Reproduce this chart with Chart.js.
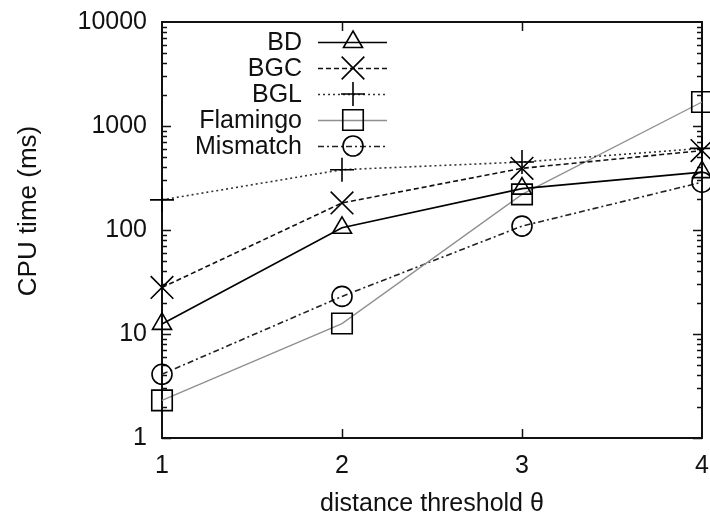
<!DOCTYPE html>
<html><head><meta charset="utf-8">
<script src="https://cdn.jsdelivr.net/npm/chart.js@4/dist/chart.umd.min.js"></script>
<style>html,body{margin:0;padding:0;background:#fff}#wrap{width:710px;height:516px}</style>
</head><body><div id="wrap"><canvas id="c" width="710" height="516"></canvas></div>
<script>
const categories = ['1','2','3','4'];
const yTickValues = [1, 10, 100, 1000, 10000];
const seriesNames = ['BD','BGC','BGL','Flamingo','Mismatch'];
const bd = [12.5, 105, 250, 360];
const bgc = [28, 182, 392, 580];
const bgl = [195, 380, 450, 610];
const flamingo = [2.3, 12.6, 220, 1700];
const mismatch = [4.1, 23, 109, 288];
const xTitle = 'distance threshold \u03b8';
const yTitle = 'CPU time (ms)';

const FONT = '"Liberation Sans", Arial, sans-serif';
const TXT = '#111';

const styles = [
  {color:'#000', pcolor:'#000', dash:[], width:1.6, ps:'triangle', r:11},
  {color:'#111', pcolor:'#000', dash:[5,3], width:1.6, ps:'crossRot', r:16},
  {color:'#333', pcolor:'#000', dash:[2,3], width:1.6, ps:'cross', r:12},
  {color:'#8f8f8f', pcolor:'#000', dash:[], width:1.3, ps:'rect', r:14.5},
  {color:'#222', pcolor:'#000', dash:[6,3,2,3], width:1.6, ps:'circle', r:10}
];
const seriesData = [bd, bgc, bgl, flamingo, mismatch];

const datasets = seriesNames.map((n,i)=>({
  label:n, data:seriesData[i],
  borderColor:styles[i].color, borderWidth:styles[i].width, borderDash:styles[i].dash,
  pointStyle:styles[i].ps, pointRadius:styles[i].r, pointHoverRadius:styles[i].r,
  pointBorderColor:styles[i].pcolor, pointBackgroundColor:'rgba(0,0,0,0)', pointBorderWidth:1.6,
  fill:false, tension:0, clip:false
}));

const framePlugin = {
  id:'frame',
  beforeDatasetsDraw(chart){
    const ctx = chart.ctx, a = chart.chartArea, y = chart.scales.y, x = chart.scales.x;
    ctx.save();
    ctx.strokeStyle = '#111'; ctx.lineWidth = 1.5; ctx.setLineDash([]);
    ctx.beginPath();
    for (let d = 1; d <= 1000; d *= 10) {
      for (let k = 1; k <= 9; k++) {
        const py = Math.round(y.getPixelForValue(d*k)) + 0.5;
        const len = k === 1 ? 9 : 5;
        ctx.moveTo(a.left, py); ctx.lineTo(a.left + len, py);
        ctx.moveTo(a.right, py); ctx.lineTo(a.right - len, py);
      }
    }
    for (let i = 1; i < categories.length - 1; i++) {
      const px = Math.round(x.getPixelForValue(i)) + 0.5;
      ctx.moveTo(px, a.bottom); ctx.lineTo(px, a.bottom - 9);
      ctx.moveTo(px, a.top); ctx.lineTo(px, a.top + 9);
    }
    ctx.stroke();
    ctx.lineWidth = 2;
    ctx.strokeRect(a.left, a.top, a.right - a.left, a.bottom - a.top);
    ctx.fillStyle = TXT;
    ctx.font = '25px ' + FONT;
    ctx.textAlign = 'center'; ctx.textBaseline = 'alphabetic';
    categories.forEach((c, i) => ctx.fillText(c, x.getPixelForValue(i), 473));
    ctx.fillText(xTitle, (a.left + a.right) / 2, 511);
    ctx.translate(36, 211); ctx.rotate(-Math.PI/2);
    ctx.font = '26px ' + FONT;
    ctx.fillText(yTitle, 0, 0);
    ctx.restore();
  },
  afterDraw(chart){
    const ctx = chart.ctx;
    const rows = [42, 68, 94, 120, 146];
    ctx.save();
    chart.data.datasets.forEach((ds, i) => {
      const yy = rows[i];
      ctx.fillStyle = TXT; ctx.font = '25px ' + FONT;
      ctx.textAlign = 'right'; ctx.textBaseline = 'middle';
      ctx.fillText(ds.label, 302, yy + 1);
      ctx.strokeStyle = ds.borderColor; ctx.lineWidth = ds.borderWidth;
      ctx.setLineDash(ds.borderDash);
      ctx.beginPath(); ctx.moveTo(318, yy + 0.5); ctx.lineTo(387, yy + 0.5); ctx.stroke();
      ctx.setLineDash([]);
      if (Chart.helpers && Chart.helpers.drawPoint) {
        ctx.strokeStyle = ds.pointBorderColor; ctx.fillStyle = 'rgba(0,0,0,0)'; ctx.lineWidth = ds.pointBorderWidth;
        Chart.helpers.drawPoint(ctx, {pointStyle: ds.pointStyle, radius: ds.pointRadius, rotation: 0, borderWidth: ds.pointBorderWidth}, 353, yy);
      }
    });
    ctx.restore();
  }
};

new Chart(document.getElementById('c'), {
  type:'line',
  data:{labels:categories, datasets},
  options:{
    responsive:false, animation:false, devicePixelRatio:1,
    layout:{autoPadding:false, padding:{top:22, right:8, left:0, bottom:0}},
    plugins:{legend:{display:false}, tooltip:{enabled:false}},
    scales:{
      x:{
        type:'category', offset:false,
        grid:{display:false, drawTicks:false}, border:{display:false},
        ticks:{display:false},
        afterFit(s){ s.height = 78; s.paddingLeft = 0; s.paddingRight = 0; }
      },
      y:{
        type:'logarithmic', min:1, max:10000,
        grid:{display:false, drawTicks:false}, border:{display:false},
        afterBuildTicks(s){ s.ticks = yTickValues.map(v=>({value:v, major:true})); },
        ticks:{color:TXT, font:{family:FONT, size:25}, padding:15, autoSkip:false,
          callback:(v)=>String(v)},
        afterFit(s){ s.width = 162; s.paddingTop = 0; s.paddingBottom = 0; }
      }
    }
  },
  plugins:[framePlugin]
});
</script></body></html>
